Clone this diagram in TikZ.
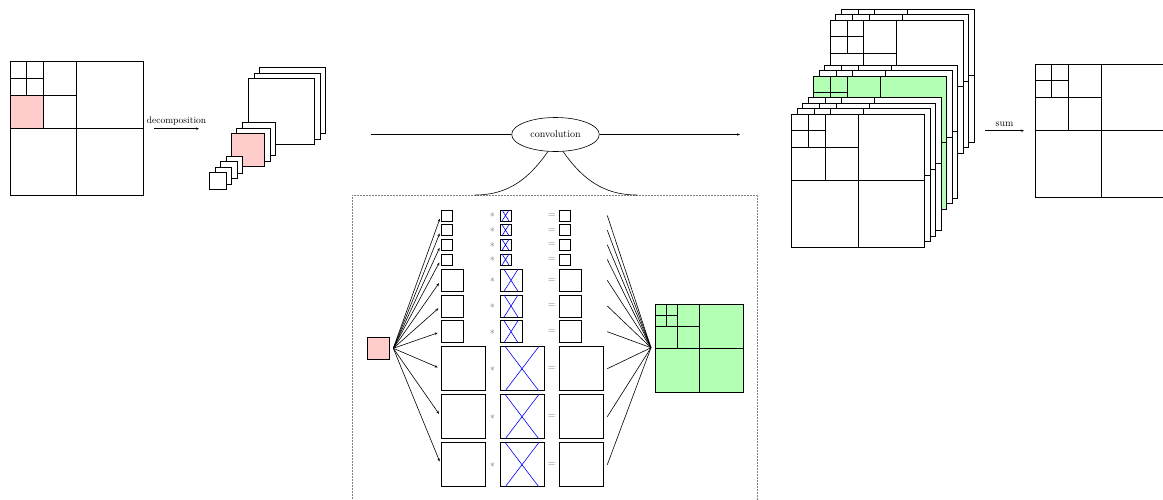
\documentclass[tikz,border=0pt]{standalone}
\usetikzlibrary{arrows.meta,shapes.geometric}
\definecolor{pinkc}{RGB}{255,204,204}
\definecolor{greenc}{RGB}{179,255,179}
\newcommand\quadt[4]{%
 \filldraw[fill=#4] ({#1},{#2}) rectangle ++({#3},{#3});
 \draw ({#1+#3/2},{#2}) -- ++(0,{#3}) ({#1},{#2+#3/2}) -- ++({#3},0);
 \draw ({#1+#3/4},{#2}) -- ++(0,{#3/2}) ({#1},{#2+#3/4}) -- ++({#3/2},0);
 \draw ({#1+#3/8},{#2}) -- ++(0,{#3/4}) ({#1},{#2+#3/8}) -- ++({#3/4},0);
}
\begin{document}
\begin{tikzpicture}[x=1pt,y=-1pt, line width=0.6pt,
  >={Stealth[length=3pt,width=2.4pt]},
  cell/.style={draw, fill=white, inner sep=0pt, outer sep=0pt, anchor=north west},
  op/.style={text=black!55, inner sep=0pt, font=\normalsize}]
\useasboundingbox (0,0) rectangle (1163,499);

% input quadtree
\quadt{10}{61.7}{133.3}{white}
\filldraw[fill=pinkc] (10,95) rectangle ++(33.3,33.3);
\node[inner sep=0pt, minimum size=133.3pt, anchor=north west] (inq) at (10,61.7) {};

% decomposition arrow
\coordinate (d1) at (154,128.7);
\coordinate (d2) at (199,128.7);
\draw[->] (d1) -- node[above, font=\fontsize{9.5}{11}\selectfont] (declab) {decomposition} (d2);

% decomposed stack
\foreach \i in {2,1,0} {\filldraw[fill=white] ({248.3+5.5*\i},{78.3-5.5*\i}) rectangle ++(66,66);}
\foreach \i in {2,1} {\filldraw[fill=white] ({231+5.5*\i},{133.3-5.5*\i}) rectangle ++(33.3,33.3);}
\filldraw[fill=pinkc] (231,133.3) rectangle ++(33.3,33.3);
\foreach \i in {3,2,1,0} {\filldraw[fill=white] ({209.3+5.5*\i},{172.7-5.5*\i}) rectangle ++(16.7,16.7);}

% convolution
\node[draw, ellipse, fill=white, minimum width=87.6pt, minimum height=34pt, inner sep=0pt] (conv) at (555.5,134.5) {convolution};
\coordinate (cva) at (371,134.5);
\coordinate (cvb) at (740,134.5);
\draw (cva) -- (conv.west);
\draw[->] (conv.east) -- (cvb);

% detail box
\coordinate (cL) at (475,195);
\coordinate (cR) at (637,195);
\draw[gray, line width=0.5pt, densely dotted] (352.7,530) -- (352.7,195) -- (757.7,195) -- (757.7,530);
\draw (conv.246) to[out=-125,in=0] (cL);
\draw (conv.294) to[out=-55,in=180] (cR);

\node[draw, fill=pinkc, minimum size=22pt, inner sep=0pt] (pin) at (378.3,348.3) {};
\coordinate (fanL) at (393.3,348.3);
\coordinate (fanR) at (651,347.7);

\foreach \i/\ty/\sz/\ins in {1/210/11/2, 2/224.7/11/2, 3/239.3/11/2, 4/254/11/2,
   5/269.3/22/4, 6/295/22/4, 7/320.7/22/4, 8/346.7/44/5.3, 9/394.7/44/5.3, 10/442.7/44/5.3}{
  \node[cell, minimum size=\sz*1pt] (in\i) at (441,\ty) {};
  \node[cell, minimum size=\sz*1pt] (k\i) at (500,\ty) {};
  \draw[blue] ([xshift=\ins*1pt]k\i.north west) -- ([xshift=-\ins*1pt]k\i.south east)
              ([xshift=-\ins*1pt]k\i.north east) -- ([xshift=\ins*1pt]k\i.south west);
  \node[cell, minimum size=\sz*1pt] (out\i) at (559.3,\ty) {};
  \node[op] (st\i) at (492.3,{\ty+\sz/2}) {$\ast$};
  \node[op] (eq\i) at (551.7,{\ty+\sz/2}) {$=$};
  \coordinate (oc\i) at (607.3,{\ty+\sz/2});
  \draw[->, shorten >=3.5pt] (fanL) -- (in\i.west);
  \draw (oc\i) -- (fanR);
}

% result quadtree in box
\quadt{655}{304}{88.7}{greenc}
\node[inner sep=0pt, minimum size=88.7pt, anchor=north west] (res) at (655,304) {};

% stack of convolved quadtrees
\foreach \i/\yy/\f in {9/8.8/white, 8/14.4/white, 7/20/white, 6/64.8/white, 5/70.4/white,
   4/76/greenc, 3/97.2/white, 2/102.8/white, 1/108.4/white, 0/114/white} {
  \quadt{791.7+5.5*\i}{\yy}{133}{\f}
}

% sum
\coordinate (s1) at (985,130.7);
\coordinate (s2) at (1024,130.7);
\draw[->] (s1) -- node[above] (sumlab) {sum} (s2);
\quadt{1035}{64}{133.3}{white}
\node[inner sep=0pt, minimum size=133.3pt, anchor=north west] (fin) at (1035,64) {};
\end{tikzpicture}
\end{document}
